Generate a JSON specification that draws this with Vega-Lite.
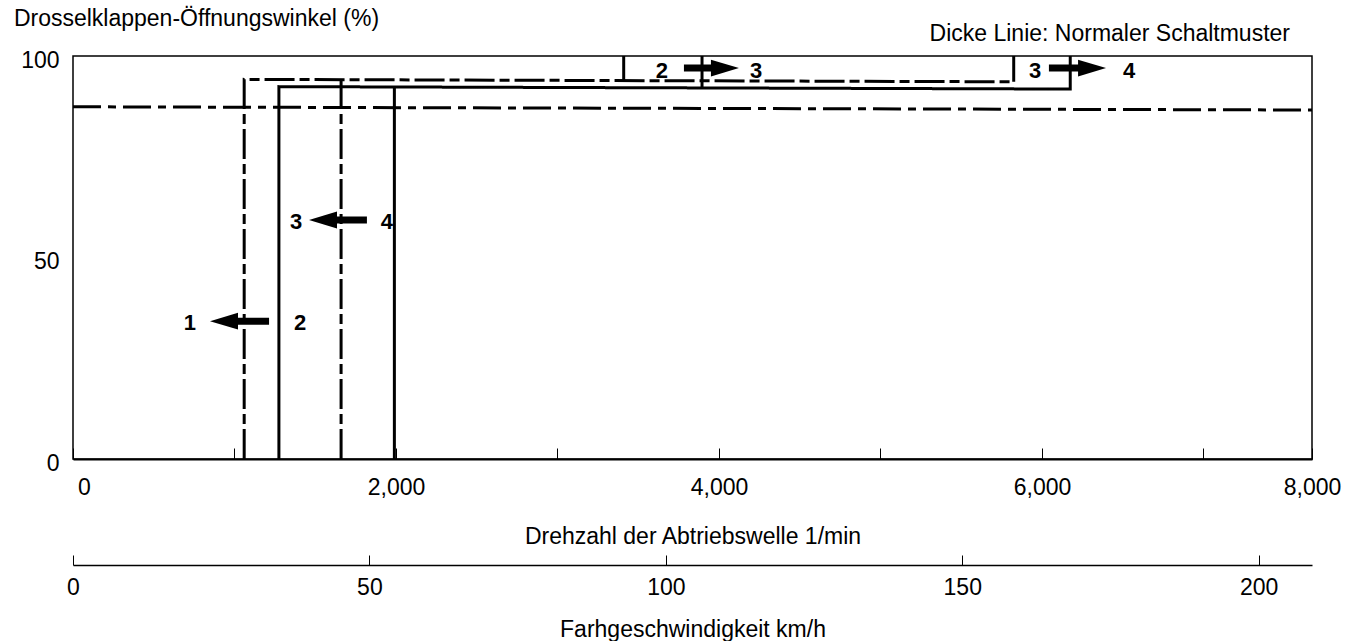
{
  "$schema": "https://vega.github.io/schema/vega-lite/v6.json",
  "background": "white",
  "padding": {"left": 13, "top": 8, "right": 5, "bottom": 0},
  "config": {
    "font": "Liberation Sans",
    "view": {"stroke": null},
    "axis": {"labelFont": "Liberation Sans", "titleFont": "Liberation Sans", "labelColor": "#000", "titleColor": "#000", "grid": false}
  },
  "title": {
    "text": "Drosselklappen-Öffnungswinkel (%)",
    "anchor": "start",
    "frame": "bounds",
    "font": "Liberation Sans",
    "fontSize": 23,
    "fontWeight": "normal",
    "color": "#000",
    "baseline": "alphabetic",
    "offset": -27,
    "dx": -6
  },
  "spacing": 5,
  "datasets": {
    "lines": [
      {"line": "A", "kind": "solid", "seq": 1, "rpm": 1275, "pct": 0},
      {"line": "A", "kind": "solid", "seq": 2, "rpm": 1275, "pct": 92.4},
      {"line": "A", "kind": "solid", "seq": 3, "rpm": 6175, "pct": 91.8},
      {"line": "A", "kind": "solid", "seq": 4, "rpm": 6175, "pct": 100},
      {"line": "B", "kind": "solid", "seq": 1, "rpm": 1990, "pct": 0},
      {"line": "B", "kind": "solid", "seq": 2, "rpm": 1990, "pct": 92.3},
      {"line": "C", "kind": "dashed", "seq": 1, "rpm": 1060, "pct": 0},
      {"line": "C", "kind": "dashed", "seq": 2, "rpm": 1060, "pct": 94.2},
      {"line": "C", "kind": "dashed", "seq": 3, "rpm": 5825, "pct": 93.6},
      {"line": "D", "kind": "dashed", "seq": 1, "rpm": 1660, "pct": 0},
      {"line": "D", "kind": "dashed", "seq": 2, "rpm": 1660, "pct": 94.1},
      {"line": "E", "kind": "thin", "seq": 1, "rpm": 3410, "pct": 94.0},
      {"line": "E", "kind": "thin", "seq": 2, "rpm": 3410, "pct": 100},
      {"line": "F", "kind": "thin", "seq": 1, "rpm": 3895, "pct": 92.1},
      {"line": "F", "kind": "thin", "seq": 2, "rpm": 3895, "pct": 100},
      {"line": "H", "kind": "thin", "seq": 1, "rpm": 5825, "pct": 93.6},
      {"line": "H", "kind": "thin", "seq": 2, "rpm": 5825, "pct": 100},
      {"line": "G", "kind": "dashdot", "seq": 1, "rpm": 0, "pct": 87.4},
      {"line": "G", "kind": "dashdot", "seq": 2, "rpm": 7672, "pct": 86.6}
    ],
    "shafts": [
      {"rpm": 1214, "rpm2": 935, "pct": 34.2},
      {"rpm": 1820, "rpm2": 1548, "pct": 59.3},
      {"rpm": 3783, "rpm2": 4037, "pct": 97.0},
      {"rpm": 6043, "rpm2": 6310, "pct": 97.0}
    ],
    "heads": [
      {"rpm": 935, "pct": 34.2, "dir": "left"},
      {"rpm": 1548, "pct": 59.3, "dir": "left"},
      {"rpm": 4037, "pct": 97.0, "dir": "right"},
      {"rpm": 6310, "pct": 97.0, "dir": "right"}
    ],
    "labels": [
      {"label": "1", "rpm": 724, "pct": 33.8},
      {"label": "2", "rpm": 1406, "pct": 33.8},
      {"label": "3", "rpm": 1381, "pct": 58.8},
      {"label": "4", "rpm": 1944, "pct": 58.8},
      {"label": "2", "rpm": 3647, "pct": 96.4},
      {"label": "3", "rpm": 4230, "pct": 96.4},
      {"label": "3", "rpm": 5957, "pct": 96.4},
      {"label": "4", "rpm": 6539, "pct": 96.4}
    ],
    "speed": [
      {"kmh": 0}, {"kmh": 50}, {"kmh": 100}, {"kmh": 150}, {"kmh": 200}
    ]
  },
  "vconcat": [
    {
      "width": 1239,
      "height": 403,
      "view": {"stroke": "#000", "strokeWidth": 1.5},
      "title": {
        "text": "Dicke Linie: Normaler Schaltmuster",
        "anchor": "end",
        "frame": "group",
        "font": "Liberation Sans",
        "fontSize": 23,
        "fontWeight": "normal",
        "color": "#000",
        "baseline": "alphabetic",
        "offset": -15,
        "dx": -22
      },
      "encoding": {
        "x": {
          "field": "rpm",
          "type": "quantitative",
          "scale": {"domain": [0, 7672], "nice": false, "zero": false},
          "axis": {
            "values": [0, 1000, 2000, 3000, 4000, 5000, 6000, 7000, 7672],
            "labelExpr": "datum.value == 7672 ? '8,000' : (datum.value % 2000 == 0 ? format(datum.value, ',') : '')",
            "labelFlush": false,
            "labelOverlap": false,
            "labelFontSize": 23,
            "labelPadding": 28,
            "labelOffset": {"condition": {"test": "datum.value == 0", "value": 11}, "value": 0},
            "tickSize": -11,
            "tickColor": "#000",
            "tickWidth": 1,
            "domainColor": "#000",
            "domainWidth": 2,
            "title": "Drehzahl der Abtriebswelle 1/min",
            "titleFontSize": 23,
            "titleFontWeight": "normal",
            "titlePadding": 26
          }
        },
        "y": {
          "field": "pct",
          "type": "quantitative",
          "scale": {"domain": [0, 100], "nice": false},
          "axis": {
            "values": [0, 50, 100],
            "ticks": false,
            "domain": false,
            "labelFontSize": 23,
            "labelPadding": 14,
            "labelOffset": 4,
            "title": null
          }
        }
      },
      "layer": [
        {
          "data": {"name": "lines"},
          "mark": {"type": "line", "color": "#000", "strokeCap": "butt", "strokeJoin": "miter"},
          "encoding": {
            "detail": {"field": "line", "type": "nominal"},
            "order": {"field": "seq", "type": "quantitative"},
            "strokeDash": {
              "field": "kind",
              "type": "nominal",
              "scale": {"domain": ["solid", "dashed", "thin", "dashdot"], "range": [[1, 0], [30, 5, 10, 5], [1, 0], [28, 7, 8, 7]]},
              "legend": null
            },
            "strokeWidth": {
              "field": "kind",
              "type": "ordinal",
              "scale": {"domain": ["solid", "dashed", "thin", "dashdot"], "range": [3, 3, 1.6, 1.5]},
              "legend": null
            }
          }
        },
        {
          "data": {"name": "shafts"},
          "mark": {"type": "rule", "color": "#000", "strokeWidth": 7, "strokeCap": "butt"},
          "encoding": {
            "x2": {"field": "rpm2"}
          }
        },
        {
          "data": {"name": "heads"},
          "mark": {"type": "point", "filled": true, "color": "#000", "opacity": 1, "size": 784, "strokeWidth": 0},
          "encoding": {
            "shape": {
              "field": "dir",
              "type": "nominal",
              "scale": {"domain": ["left", "right"], "range": ["M1,-0.6L-1,0L1,0.6Z", "M-1,-0.6L1,0L-1,0.6Z"]},
              "legend": null
            }
          }
        },
        {
          "data": {"name": "labels"},
          "mark": {"type": "text", "font": "Liberation Sans", "fontSize": 22, "fontWeight": "bold", "color": "#000", "align": "center", "baseline": "middle"},
          "encoding": {
            "text": {"field": "label", "type": "nominal"}
          }
        }
      ]
    },
    {
      "width": 1239,
      "height": 1,
      "data": {"name": "speed"},
      "mark": {"type": "point", "opacity": 0},
      "encoding": {
        "x": {
          "field": "kmh",
          "type": "quantitative",
          "scale": {"domain": [0, 209], "nice": false, "zero": false},
          "axis": {
            "values": [0, 50, 100, 150, 200],
            "format": "d",
            "labelFlush": false,
            "labelFontSize": 23,
            "labelPadding": 21,
            "tickSize": -10,
            "tickColor": "#000",
            "tickWidth": 1,
            "domainColor": "#000",
            "domainWidth": 1.5,
            "title": "Farhgeschwindigkeit km/h",
            "titleFontSize": 23,
            "titleFontWeight": "normal",
            "titlePadding": 19
          }
        }
      }
    }
  ]
}
